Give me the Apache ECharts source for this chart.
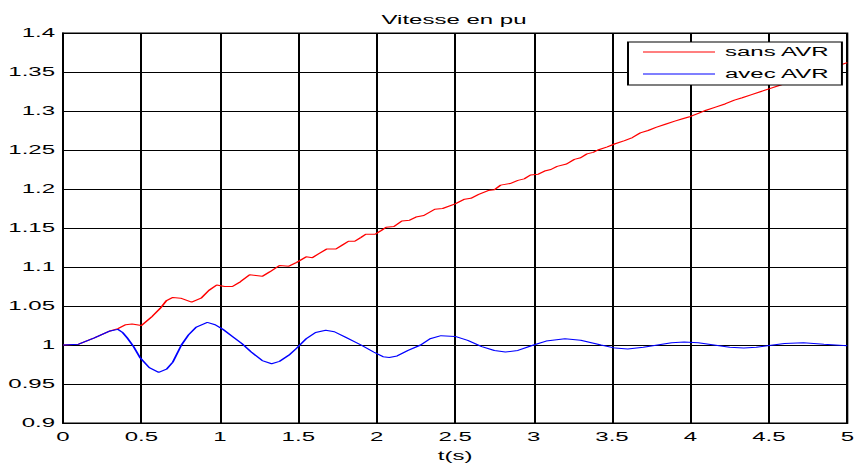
<!DOCTYPE html>
<html>
<head>
<meta charset="utf-8">
<script src="https://cdn.jsdelivr.net/npm/echarts@6/dist/echarts.min.js"></script>
<style>
  html, body { margin: 0; padding: 0; background: #fff; overflow: hidden; }
  #chart { width: 430px; height: 467px; transform: scaleX(2); transform-origin: 0 0; }
</style>
</head>
<body>
<div id="chart"></div>
<script>
// Rotor speed (pu) without and with voltage regulator
const titleText = 'Vitesse en pu';
const xName = 't(s)';
const seriesNames = ['sans AVR', 'avec AVR'];

const sansT = [0, 0.1, 0.2, 0.3, 0.35, 0.4, 0.44, 0.5, 0.57, 0.62, 0.66, 0.70, 0.75, 0.82, 0.88, 0.93, 0.98, 1.03, 1.08, 1.13, 1.19, 1.23, 1.27, 1.32, 1.38, 1.44, 1.49, 1.55, 1.59, 1.63, 1.68, 1.74, 1.78, 1.82, 1.86, 1.90, 1.93, 1.99, 2.03, 2.06, 2.11, 2.16, 2.21, 2.25, 2.30, 2.37, 2.42, 2.50, 2.56, 2.60, 2.65, 2.71, 2.75, 2.79, 2.85, 2.90, 2.94, 2.98, 3.03, 3.07, 3.11, 3.15, 3.21, 3.26, 3.30, 3.34, 3.38, 3.41, 3.47, 3.52, 3.58, 3.63, 3.68, 3.73, 3.78, 3.84, 3.90, 3.95, 4.00, 4.05, 4.10, 4.16, 4.22, 4.28, 4.33, 4.39, 4.45, 4.51, 4.57, 4.64, 4.70, 4.76, 4.82, 4.88, 4.94, 5.00];
const sansV = [1.000, 1.001, 1.009, 1.018, 1.021, 1.026, 1.027, 1.025, 1.037, 1.047, 1.057, 1.061, 1.060, 1.055, 1.060, 1.070, 1.077, 1.075, 1.075, 1.081, 1.090, 1.089, 1.088, 1.094, 1.102, 1.101, 1.106, 1.113, 1.112, 1.117, 1.123, 1.123, 1.128, 1.133, 1.133, 1.138, 1.142, 1.142, 1.147, 1.151, 1.152, 1.159, 1.160, 1.164, 1.166, 1.174, 1.175, 1.181, 1.187, 1.188, 1.193, 1.198, 1.199, 1.205, 1.207, 1.211, 1.213, 1.218, 1.219, 1.223, 1.225, 1.229, 1.232, 1.238, 1.240, 1.245, 1.247, 1.250, 1.254, 1.258, 1.262, 1.266, 1.272, 1.275, 1.279, 1.283, 1.287, 1.290, 1.293, 1.297, 1.301, 1.305, 1.309, 1.314, 1.317, 1.321, 1.325, 1.329, 1.333, 1.338, 1.342, 1.347, 1.351, 1.354, 1.358, 1.362];

const avecT = [0, 0.1, 0.2, 0.3, 0.35, 0.38, 0.41, 0.45, 0.49, 0.55, 0.61, 0.66, 0.70, 0.755, 0.80, 0.85, 0.92, 0.97, 1.02, 1.08, 1.14, 1.20, 1.27, 1.33, 1.38, 1.44, 1.49, 1.55, 1.61, 1.675, 1.73, 1.80, 1.90, 1.98, 2.04, 2.08, 2.13, 2.20, 2.28, 2.34, 2.41, 2.50, 2.58, 2.67, 2.75, 2.82, 2.90, 3.00, 3.08, 3.20, 3.30, 3.43, 3.52, 3.60, 3.70, 3.79, 3.88, 3.96, 4.05, 4.15, 4.25, 4.34, 4.42, 4.49, 4.60, 4.72, 4.85, 5.00];
const avecV = [1.000, 1.001, 1.009, 1.018, 1.020, 1.016, 1.009, 0.998, 0.984, 0.971, 0.965, 0.969, 0.978, 1.000, 1.013, 1.023, 1.029, 1.026, 1.020, 1.011, 1.002, 0.991, 0.980, 0.976, 0.979, 0.987, 0.996, 1.008, 1.016, 1.019, 1.017, 1.010, 1.000, 0.991, 0.985, 0.984, 0.986, 0.993, 1.000, 1.008, 1.012, 1.011, 1.006, 0.998, 0.993, 0.991, 0.993, 1.000, 1.005, 1.008, 1.006, 1.000, 0.996, 0.995, 0.997, 1.000, 1.003, 1.004, 1.003, 1.000, 0.997, 0.996, 0.997, 0.999, 1.002, 1.003, 1.001, 0.999];

const pairs = (ts, vs) => ts.map((t, i) => [t, vs[i]]);
const FONT = '"Liberation Sans", Arial, sans-serif';

// SVG output keeps strokes and glyphs sharp under the horizontal stretch of the container
const chart = echarts.init(document.getElementById('chart'), null, { renderer: 'svg' });
chart.setOption({
  backgroundColor: '#ffffff',
  animation: false,
  title: {
    text: titleText,
    left: 222,
    top: 9,
    textAlign: 'center',
    textStyle: { fontFamily: FONT, fontSize: 12, fontWeight: 'normal', color: '#000' }
  },
  grid: {
    left: 31.5, right: 4.5, top: 33, bottom: 44,
    show: true, borderColor: '#000', borderWidth: 1, backgroundColor: '#fff',
    containLabel: false
  },
  legend: {
    data: seriesNames,
    orient: 'vertical',
    left: 314, top: 42,
    padding: [4, 6, 5, 7],
    itemWidth: 36, itemHeight: 14, itemGap: 10,
    backgroundColor: '#fff',
    borderColor: '#000', borderWidth: 1, borderRadius: 0,
    itemStyle: { opacity: 0 },
    lineStyle: { width: 1 },
    textStyle: { fontFamily: FONT, fontSize: 12, color: '#000' },
    z: 10
  },
  xAxis: {
    type: 'value', min: 0, max: 5, interval: 0.5,
    name: xName, nameLocation: 'middle', nameGap: 27,
    nameTextStyle: { fontFamily: FONT, fontSize: 12, color: '#000' },
    axisLine: { show: true, lineStyle: { color: '#000', width: 1 } },
    axisTick: { show: false },
    axisLabel: { margin: 8, fontFamily: FONT, fontSize: 12, color: '#000' },
    splitLine: { show: true, lineStyle: { color: '#000', width: 1 } }
  },
  yAxis: {
    type: 'value', min: 0.9, max: 1.4, interval: 0.05,
    axisLine: { show: true, lineStyle: { color: '#000', width: 1 } },
    axisTick: { show: false },
    axisLabel: { margin: 4, fontFamily: FONT, fontSize: 12, color: '#000' },
    splitLine: { show: true, lineStyle: { color: '#000', width: 1 } }
  },
  series: [
    {
      name: seriesNames[0], type: 'line', data: pairs(sansT, sansV),
      showSymbol: false, symbol: 'none',
      lineStyle: { color: '#ff0000', width: 1 }, itemStyle: { color: '#ff0000' }
    },
    {
      name: seriesNames[1], type: 'line', data: pairs(avecT, avecV),
      showSymbol: false, symbol: 'none',
      lineStyle: { color: '#0000ff', width: 1 }, itemStyle: { color: '#0000ff' }
    }
  ]
});
</script>
</body>
</html>
